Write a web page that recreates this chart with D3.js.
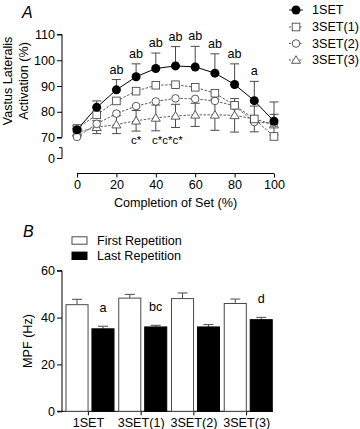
<!DOCTYPE html>
<html>
<head>
<meta charset="utf-8">
<script src="https://cdn.jsdelivr.net/npm/d3@7"></script>
<style>
  body { margin: 0; background: #fff; }
  svg { display: block; font-family: "Liberation Sans", Arial, sans-serif; }
</style>
</head>
<body>
<div id="chart"></div>
<script>
// Panel A data
const completion = [0, 10, 20, 30, 40, 50, 60, 70, 80, 90, 100];
const set1 = [73, 81.7, 88.5, 93.6, 96.8, 97.8, 97.4, 95, 90.6, 84.3, 76.3];
const set1Err = [1.5, 2.5, 4, 5, 6, 7.5, 8, 7.5, 8, 7.5, 7.5];
const set3a = [73.5, 78.8, 84.2, 88, 90.3, 90.5, 89.5, 87.2, 82.5, 77.2, 70.4];
const set3b = [70.2, 75.3, 79.3, 82.2, 84, 85.2, 85, 84.2, 82.3, 76, 75.5];
const set3c = [72, 74, 75, 76.5, 77.6, 78.4, 78.8, 78.8, 78.6, 77.2, 75];
const set3cErr = [1.5, 2.5, 3.5, 4, 5, 4.5, 4.5, 6, 6.5, 5, 4];
const sigAbove = [
  { x: 20, text: 'ab' }, { x: 30, text: 'ab' }, { x: 40, text: 'ab' },
  { x: 50, text: 'ab' }, { x: 60, text: 'ab' }, { x: 70, text: 'ab' },
  { x: 80, text: 'ab' }, { x: 90, text: 'a' }
];
const sigBelow = [{ x: 30, text: 'c*' }, { x: 45.9, text: 'c*c*c*' }];
const yTicksA = [70, 80, 90, 100, 110];
const xTicksA = [0, 20, 40, 60, 80, 100];
const seriesNames = ['1SET', '3SET(1)', '3SET(2)', '3SET(3)'];

// Panel B data
const groups = ['1SET', '3SET(1)', '3SET(2)', '3SET(3)'];
const firstRep = [45.5, 48.3, 48.1, 46.0];
const firstErr = [2.3, 1.6, 2.4, 1.9];
const lastRep = [35.2, 36.0, 36.0, 39.1];
const lastErr = [1.1, 0.7, 1.0, 1.0];
const sigB = ['a', 'bc', '', 'd'];
const yTicksB = [0, 20, 40, 60];

const W = 360, H = 429;
const grey = '#4a4a4a';
const fs = '12.6px';

const svg = d3.select('#chart').append('svg')
  .attr('width', W).attr('height', H);

// ---------- Panel A ----------
const x = d3.scaleLinear().domain([0, 100]).range([77, 274]);
const y = d3.scaleLinear().domain([70, 110]).range([137.5, 34.5]);
const yZero = 158.5;

svg.append('text').attr('x', 22).attr('y', 18)
  .style('font-size', '16px').style('font-style', 'italic').text('A');

// y axis (main part)
svg.append('g')
  .attr('transform', 'translate(62,0)')
  .call(d3.axisLeft(y).tickValues(yTicksA).tickSize(5).tickPadding(2))
  .call(g => g.select('.domain').attr('d', `M-5,${y(110)}H0V${y(70)}H-5`))
  .call(g => g.selectAll('text').style('font-size', fs).attr('fill', '#000'));

// broken axis piece at 0
svg.append('path')
  .attr('d', `M59,147.7H62V${yZero}H57`)
  .attr('fill', 'none').attr('stroke', '#000');
svg.append('text').attr('x', 55).attr('y', yZero).attr('dy', '0.34em')
  .attr('text-anchor', 'end').style('font-size', fs).text('0');

// x axis
svg.append('g')
  .attr('transform', 'translate(0,173.5)')
  .call(d3.axisBottom(x).tickValues(xTicksA).tickSize(4).tickPadding(3))
  .call(g => g.select('.domain').attr('d', `M${x(0)},0H${x(100)}`))
  .call(g => g.selectAll('text').style('font-size', fs).attr('fill', '#000'));

svg.append('text').attr('x', x(50)).attr('y', 207)
  .attr('text-anchor', 'middle').style('font-size', fs)
  .text('Completion of Set (%)');

const yLab = svg.append('text')
  .attr('transform', 'translate(0,81) rotate(-90)')
  .attr('text-anchor', 'middle').style('font-size', fs);
yLab.append('tspan').attr('x', 0).attr('y', 12).text('Vastus Lateralis');
yLab.append('tspan').attr('x', 0).attr('y', 27.5).text('Activation (%)');

const line = d3.line().x((d, i) => x(completion[i])).y(d => y(d));

// dashed lines for 3SET series
[set3c, set3b, set3a].forEach(s => {
  svg.append('path').datum(s).attr('d', line)
    .attr('fill', 'none').attr('stroke', grey)
    .attr('stroke-width', 0.9).attr('stroke-dasharray', '2.5,1.5');
});
svg.append('path').datum(set1).attr('d', line)
  .attr('fill', 'none').attr('stroke', '#000').attr('stroke-width', 1);

// error bars 3SET(3) (both directions)
const eb3 = svg.append('g').attr('stroke', grey).attr('stroke-width', 1);
set3c.forEach((v, i) => {
  const cx = x(completion[i]);
  const t = y(v + set3cErr[i]), b = y(v - set3cErr[i]);
  eb3.append('path').attr('d', `M${cx},${t}V${b}M${cx - 4.5},${t}H${cx + 4.5}M${cx - 4.5},${b}H${cx + 4.5}`);
});

// error bars 1SET (upward)
const eb1 = svg.append('g').attr('stroke', grey).attr('stroke-width', 1);
set1.forEach((v, i) => {
  const cx = x(completion[i]);
  const t = y(v + set1Err[i]);
  eb1.append('path').attr('d', `M${cx},${y(v)}V${t}M${cx - 4.5},${t}H${cx + 4.5}`);
});

function marker(g, type, cx, cy) {
  if (type === 0) {
    g.append('circle').attr('cx', cx).attr('cy', cy).attr('r', 4.5).attr('fill', '#000');
  } else if (type === 1) {
    g.append('rect').attr('x', cx - 3.8).attr('y', cy - 3.8).attr('width', 7.6).attr('height', 7.6)
      .attr('fill', '#fff').attr('stroke', grey).attr('stroke-width', 0.9);
  } else if (type === 2) {
    g.append('circle').attr('cx', cx).attr('cy', cy).attr('r', 3.8)
      .attr('fill', '#fff').attr('stroke', grey).attr('stroke-width', 0.9);
  } else {
    g.append('path').attr('d', `M${cx},${cy - 4.3}L${cx + 4.5},${cy + 3.3}L${cx - 4.5},${cy + 3.3}Z`)
      .attr('fill', '#fff').attr('stroke', grey).attr('stroke-width', 0.9);
  }
}

const markG = svg.append('g');
[set3c, set3b, set3a, set1].forEach((s, k) => {
  const type = [3, 2, 1, 0][k];
  s.forEach((v, i) => marker(markG, type, x(completion[i]), y(v)));
});

// significance labels A
sigAbove.forEach(d => {
  const i = completion.indexOf(d.x);
  svg.append('text').attr('x', x(d.x)).attr('y', y(set1[i] + set1Err[i]) - 6)
    .attr('text-anchor', 'middle').style('font-size', fs).text(d.text);
});
sigBelow.forEach(d => {
  svg.append('text').attr('x', x(d.x)).attr('y', 143.5)
    .attr('text-anchor', 'middle').style('font-size', '11.5px').text(d.text);
});

// legend A
const legA = svg.append('g');
seriesNames.forEach((name, k) => {
  const ly = [10, 27, 43.5, 60][k];
  legA.append('line').attr('x1', 289).attr('x2', 303).attr('y1', ly).attr('y2', ly)
    .attr('stroke', k === 0 ? '#000' : grey).attr('stroke-width', 0.9)
    .attr('stroke-dasharray', k === 0 ? null : '2,1.5');
  marker(legA, k, 296, ly);
  legA.append('text').attr('x', 312).attr('y', ly).attr('dy', '0.35em')
    .style('font-size', fs).text(name);
});

// ---------- Panel B ----------
const xb = d3.scaleBand().domain(groups).range([62, 273]).padding(0);
const xs = d3.scaleBand().domain(['first', 'last']).range([4, 52]).paddingInner(0.15);
const yb = d3.scaleLinear().domain([0, 60]).range([411.3, 270.7]);

svg.append('text').attr('x', 23).attr('y', 237)
  .style('font-size', '16px').style('font-style', 'italic').text('B');

svg.append('g')
  .attr('transform', 'translate(62,0)')
  .call(d3.axisLeft(yb).tickValues(yTicksB).tickSize(5).tickPadding(2))
  .call(g => g.select('.domain').attr('d', `M-5,${yb(60)}H0V${yb(0)}H-5`))
  .call(g => g.selectAll('text').style('font-size', fs).attr('fill', '#000'));

svg.append('g')
  .attr('transform', `translate(0,${yb(0)})`)
  .call(d3.axisBottom(xb).tickSize(4).tickPadding(3))
  .call(g => g.select('.domain').attr('d', `M62,0H273`))
  .call(g => g.selectAll('text').style('font-size', fs).attr('fill', '#000'));

svg.append('text')
  .attr('transform', `translate(28,${(yb(0) + yb(60)) / 2}) rotate(-90)`)
  .attr('text-anchor', 'middle').attr('dy', '0.35em')
  .style('font-size', fs).text('MPF (Hz)');

const barG = svg.append('g');
groups.forEach((gname, i) => {
  const x0 = xb(gname);
  const bw = xs.bandwidth();
  [['first', firstRep[i], firstErr[i]], ['last', lastRep[i], lastErr[i]]].forEach(([k, v, e]) => {
    const bx = x0 + xs(k);
    const cx = bx + bw / 2;
    barG.append('path')
      .attr('d', `M${cx},${yb(v)}V${yb(v + e)}M${cx - 5},${yb(v + e)}H${cx + 5}`)
      .attr('stroke', grey).attr('stroke-width', 1);
    barG.append('rect').attr('x', bx).attr('y', yb(v))
      .attr('width', bw).attr('height', yb(0) - yb(v))
      .attr('fill', k === 'first' ? '#fff' : '#000')
      .attr('stroke', k === 'first' ? grey : '#000').attr('stroke-width', 1);
  });
  if (sigB[i]) {
    svg.append('text').attr('x', x0 + xs('last') + bw / 2)
      .attr('y', yb(lastRep[i] + lastErr[i]) - 14)
      .attr('text-anchor', 'middle').style('font-size', fs).text(sigB[i]);
  }
});

// legend B
const legB = svg.append('g');
[['First Repetition', '#fff', grey, 240.5], ['Last Repetition', '#000', '#000', 255.8]].forEach(([t, f, s, ly]) => {
  legB.append('rect').attr('x', 72).attr('y', ly - 3.7).attr('width', 15).attr('height', 7.4)
    .attr('fill', f).attr('stroke', s).attr('stroke-width', 1);
  legB.append('text').attr('x', 97).attr('y', ly).attr('dy', '0.35em')
    .style('font-size', fs).text(t);
});
</script>
</body>
</html>
